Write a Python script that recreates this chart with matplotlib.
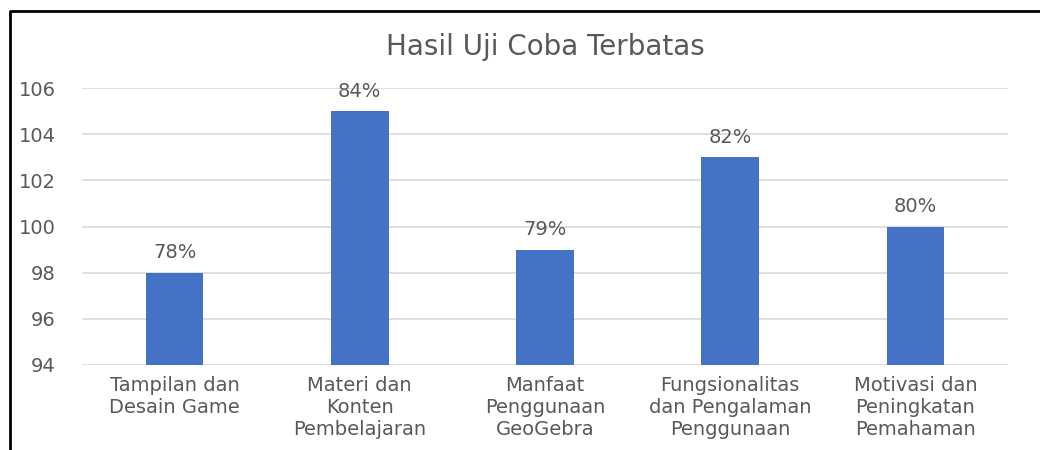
import matplotlib.pyplot as plt
from matplotlib.lines import Line2D

categories = ["Tampilan dan\nDesain Game", "Materi dan\nKonten\nPembelajaran",
              "Manfaat\nPenggunaan\nGeoGebra", "Fungsionalitas\ndan Pengalaman\nPenggunaan",
              "Motivasi dan\nPeningkatan\nPemahaman"]
values = [98, 105, 99, 103, 100]
labels = ["78%", "84%", "79%", "82%", "80%"]
yticks = [94, 96, 98, 100, 102, 104, 106]

plt.rcParams['font.family'] = ['DejaVu Sans']
gray = "#595959"

fig = plt.figure(figsize=(10.4, 4.5), dpi=100)
ax = fig.add_axes([82 / 1040, 1 - 365 / 450, (1008 - 82) / 1040, (365 - 88) / 450])

x = range(len(categories))
bars = ax.bar(x, values, width=0.31, color="#4472C4", zorder=3)
for b, lab in zip(bars, labels):
    ax.text(b.get_x() + b.get_width() / 2, b.get_height() + 0.45, lab,
            ha="center", va="bottom", fontsize=14, color=gray)

ax.set_xlim(-0.5, len(categories) - 0.5)
ax.set_ylim(94, 106)
ax.set_yticks(yticks)
ax.set_xticks(list(x))
ax.set_xticklabels(categories, fontsize=14, color=gray, linespacing=1.18)
ax.tick_params(axis="y", labelsize=14, labelcolor=gray, length=0, pad=19)
ax.tick_params(axis="x", length=0, pad=8)
ax.grid(axis="y", color="#D9D9D9", linewidth=1.2, zorder=0)
for s in ax.spines.values():
    s.set_visible(False)

fig.text(545 / 1040, 1 - 47 / 450, "Hasil Uji Coba Terbatas", ha="center", va="center",
         fontsize=20, color=gray)

# frame lines on the left and top edges
fig.add_artist(Line2D([10 / 1040, 10 / 1040, 1.0], [0.0, 1 - 11 / 450, 1 - 11 / 450],
                      color="black", linewidth=2))

fig.savefig("out.png", dpi=100)
